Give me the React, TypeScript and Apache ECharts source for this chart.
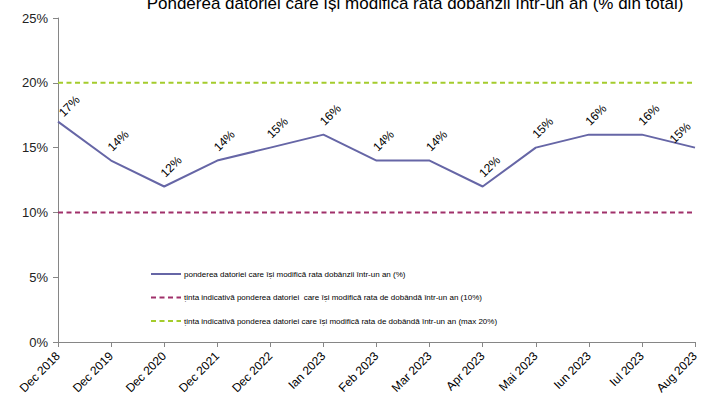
import React, { useEffect, useRef } from "react";
import * as echarts from "echarts";

const categories = [
  "Dec 2018", "Dec 2019", "Dec 2020", "Dec 2021", "Dec 2022", "Ian 2023",
  "Feb 2023", "Mar 2023", "Apr 2023", "Mai 2023", "Iun 2023", "Iul 2023", "Aug 2023",
];
const shareValues = [17, 14, 12, 14, 15, 16, 14, 14, 12, 15, 16, 16, 15];
const targetMin = [10, 10, 10, 10, 10, 10, 10, 10, 10, 10, 10, 10, 10];
const targetMax = [20, 20, 20, 20, 20, 20, 20, 20, 20, 20, 20, 20, 20];

const titleText = "Ponderea datoriei care își modifică rata dobânzii într-un an (% din total)";
const seriesNames = [
  "ponderea datoriei care își modifică rata dobânzii într-un an (%)",
  "ținta indicativă ponderea datoriei  care își modifică rata de dobândă într-un an (10%)",
  "ținta indicativă ponderea datoriei care își modifică rata de dobândă într-un an (max 20%)",
];

const FONT = "'Liberation Sans', Arial, sans-serif";
const CLEAR = "rgba(0,0,0,0)";

export default function App() {
  const ref = useRef<HTMLDivElement>(null);
  useEffect(() => {
    if (!ref.current) return;
    const chart = echarts.init(ref.current, null, { renderer: "svg" });
    const lastIdx = shareValues.length - 1;
    const mainData = shareValues.map((v, i) => {
      if (i === lastIdx) return { value: v, label: { offset: [0, -21] } };
      if (i === 0) return { value: v, label: { offset: [19, -3] } };
      return v;
    });
    chart.setOption({
      animation: false,
      backgroundColor: "#ffffff",
      title: {
        text: titleText,
        left: 415,
        textAlign: "center",
        top: -5,
        padding: 0,
        textStyle: { fontFamily: FONT, fontSize: 17, fontWeight: "normal", color: "#000" },
      },
      legend: {
        orient: "vertical",
        left: 145,
        top: 265,
        itemWidth: 30,
        itemHeight: 10,
        itemGap: 15.5,
        textStyle: { fontFamily: FONT, fontSize: 8, color: "#000", padding: [0, 0, 0, -2] },
        data: seriesNames.map((n) => ({ name: n })),
      },
      grid: { left: 58, right: 18, top: 18, bottom: 63, containLabel: false },
      xAxis: {
        type: "category",
        data: categories,
        boundaryGap: false,
        axisLine: { lineStyle: { color: "#868686", width: 1 } },
        axisTick: { show: true, length: 5, lineStyle: { color: "#868686" } },
        axisLabel: {
          rotate: 45,
          interval: 0,
          fontFamily: FONT,
          fontSize: 12,
          color: "#000",
          margin: 12,
        },
        splitLine: { show: false },
      },
      yAxis: {
        type: "value",
        min: 0,
        max: 25,
        interval: 5,
        axisLine: { show: true, lineStyle: { color: "#868686", width: 1 } },
        axisTick: { show: true, length: 5, lineStyle: { color: "#868686" } },
        axisLabel: {
          formatter: "{value}%",
          fontFamily: FONT,
          fontSize: 13,
          color: "#222",
          margin: 10,
        },
        splitLine: { show: false },
      },
      series: [
        {
          name: seriesNames[0],
          type: "line",
          data: mainData,
          symbol: "circle",
          symbolSize: 1,
          itemStyle: { color: CLEAR },
          lineStyle: { color: "#6666A6", width: 2 },
          label: {
            show: true,
            position: "inside",
            align: "center",
            verticalAlign: "middle",
            rotate: 45,
            offset: [19, -9],
            formatter: "{c}%",
            fontFamily: FONT,
            fontSize: 12,
            color: "#000",
          },
          z: 3,
        },
        {
          name: seriesNames[1],
          type: "line",
          data: targetMin,
          symbol: "circle",
          showSymbol: false,
          itemStyle: { color: CLEAR },
          lineStyle: { color: "#A0306A", width: 2, type: [5, 3.5] },
        },
        {
          name: seriesNames[2],
          type: "line",
          data: targetMax,
          symbol: "circle",
          showSymbol: false,
          itemStyle: { color: CLEAR },
          lineStyle: { color: "#A4CC2C", width: 2, type: [5, 3.5] },
        },
      ],
    });
    return () => chart.dispose();
  }, []);
  return <div ref={ref} style={{ width: 713, height: 405, position: "fixed", left: 0, top: 0 }} />;
}
